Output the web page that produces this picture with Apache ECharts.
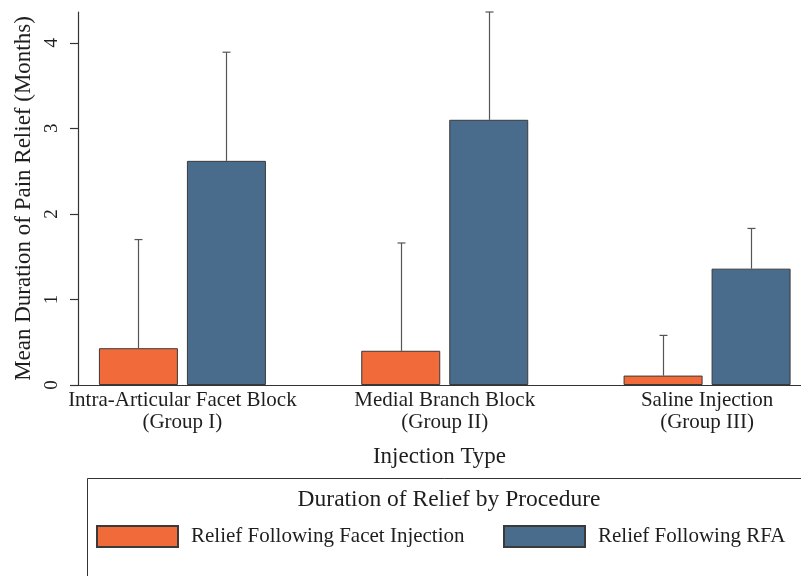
<!DOCTYPE html>
<html>
<head>
<meta charset="utf-8">
<title>Duration of Relief by Procedure</title>
<script src="https://cdn.jsdelivr.net/npm/echarts@6/dist/echarts.min.js"></script>
<style>
    html, body {margin: 0; padding: 0; background: #fff;}
    #chartdiv {width: 801px; height: 576px;}
</style>
</head>
<body>
<div id="chartdiv"></div>
<script>
// data
var groupNames = ['Intra-Articular Facet Block\n(Group I)', 'Medial Branch Block\n(Group II)', 'Saline Injection\n(Group III)'];
var groupIndex = [0, 1, 2];
var seriesNames = ['Relief Following Facet Injection', 'Relief Following RFA'];
var facetMean = [0.43, 0.40, 0.11];
var facetUpper = [1.70, 1.66, 0.58];
var rfaMean = [2.62, 3.10, 1.36];
var rfaUpper = [3.89, 4.36, 1.83];
var yTicks = [0, 1, 2, 3, 4];

var FONT = "'Liberation Serif', 'Times New Roman', serif";
var TEXT = '#1e1e1e';
var BAR_W = 79;     // px
var BAR_GAP = 9;    // px between the two bars of a group

function pairs(mean) {
    var out = [];
    for (var i = 0; i < groupIndex.length; i++) {
        out.push([groupIndex[i], mean[i]]);
    }
    return out;
}

function triples(mean, upper) {
    var out = [];
    for (var i = 0; i < groupIndex.length; i++) {
        out.push([groupIndex[i], mean[i], upper[i]]);
    }
    return out;
}

// whisker above each bar, shifted to the bar's side of the group
function errorBar(offset) {
    return function (params, api) {
        var x = api.value(0);
        var lo = api.coord([x, api.value(1)]);
        var hi = api.coord([x, api.value(2)]);
        var cx = Math.round(lo[0] + offset) + 0.5;
        var st = {stroke: '#555', lineWidth: 1.2};
        return {
            type: 'group',
            children: [
                {type: 'line', shape: {x1: cx, y1: lo[1], x2: cx, y2: hi[1]}, style: st},
                {type: 'line', shape: {x1: cx - 4, y1: hi[1], x2: cx + 4, y2: hi[1]}, style: st}
            ]
        };
    };
}

var half = (BAR_W + BAR_GAP) / 2;
var legendText = {fontFamily: FONT, fontSize: 21, color: TEXT, padding: [0, 0, 0, 8]};

var dom = document.getElementById('chartdiv');
var myChart = echarts.init(dom);

var option = {
    animation: false,
    backgroundColor: '#fff',
    textStyle: {fontFamily: FONT, color: TEXT},
    grid: {
        left: 78,
        right: 0,
        top: 12,
        bottom: 191
    },
    title: {
        text: 'Duration of Relief by Procedure',
        left: 444,
        textAlign: 'center',
        top: 483,
        textStyle: {fontFamily: FONT, fontSize: 23.5, fontWeight: 'normal', color: TEXT}
    },
    legend: [
        {
            data: [seriesNames[0]], left: 96, top: 525, padding: 0, icon: 'rect',
            itemWidth: 81, itemHeight: 21, selectedMode: false, textStyle: legendText
        },
        {
            data: [seriesNames[1]], left: 503, top: 525, padding: 0, icon: 'rect',
            itemWidth: 81, itemHeight: 21, selectedMode: false, textStyle: legendText
        }
    ],
    graphic: [
        {
            type: 'rect',
            shape: {x: 87.5, y: 478.5, width: 760, height: 200},
            style: {fill: 'none', stroke: '#333', lineWidth: 1},
            silent: true
        }
    ],
    xAxis: {
        type: 'value',
        min: -0.398,
        max: 2.358,
        name: 'Injection Type',
        nameLocation: 'middle',
        nameGap: 60,
        nameTextStyle: {fontFamily: FONT, fontSize: 23, color: TEXT},
        axisLine: {show: true, onZero: false, lineStyle: {color: '#333', width: 1.2}},
        axisTick: {show: false},
        splitLine: {show: false},
        axisLabel: {
            customValues: groupIndex,
            formatter: function (v) { return groupNames[Math.round(v)]; },
            fontFamily: FONT,
            fontSize: 21,
            lineHeight: 22,
            color: TEXT,
            margin: 4
        }
    },
    yAxis: {
        type: 'value',
        min: 0,
        max: 4.36,
        name: 'Mean Duration of Pain Relief (Months)',
        nameLocation: 'middle',
        nameGap: 42,
        nameTextStyle: {fontFamily: FONT, fontSize: 23, color: TEXT},
        axisLine: {show: true, onZero: false, lineStyle: {color: '#333', width: 1.2}},
        axisTick: {show: true, length: 8, customValues: yTicks, lineStyle: {color: '#333', width: 1.2}},
        splitLine: {show: false},
        axisLabel: {
            customValues: yTicks,
            rotate: 90,
            fontFamily: FONT,
            fontSize: 19,
            color: TEXT,
            margin: 16
        }
    },
    series: [
        {
            type: 'custom',
            name: 'facetErr',
            renderItem: errorBar(-half),
            data: triples(facetMean, facetUpper),
            encode: {x: 0, y: [1, 2]},
            z: 1,
            silent: true
        },
        {
            type: 'custom',
            name: 'rfaErr',
            renderItem: errorBar(half),
            data: triples(rfaMean, rfaUpper),
            encode: {x: 0, y: [1, 2]},
            z: 1,
            silent: true
        },
        {
            type: 'bar',
            name: seriesNames[0],
            data: pairs(facetMean),
            barWidth: BAR_W,
            barGap: (BAR_GAP / BAR_W * 100).toFixed(1) + '%',
            itemStyle: {color: '#F06A3A', borderColor: '#3a3a3a', borderWidth: 1},
            z: 2
        },
        {
            type: 'bar',
            name: seriesNames[1],
            data: pairs(rfaMean),
            barWidth: BAR_W,
            barGap: (BAR_GAP / BAR_W * 100).toFixed(1) + '%',
            itemStyle: {color: '#4A6C8C', borderColor: '#3a3a3a', borderWidth: 1},
            z: 2
        }
    ]
};

myChart.setOption(option);
</script>
</body>
</html>
